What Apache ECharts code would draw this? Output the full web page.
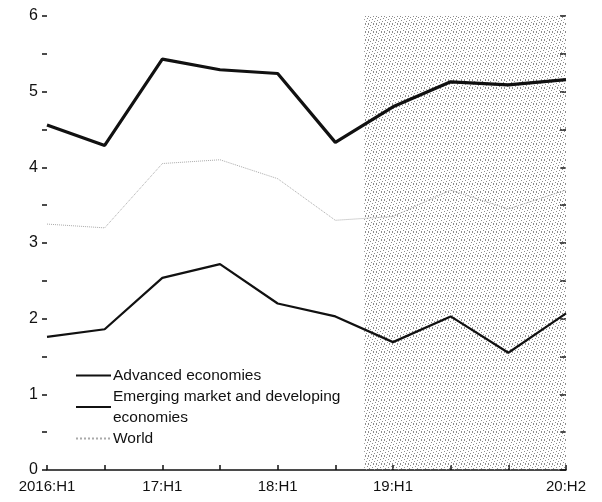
<!DOCTYPE html>
<html>
<head>
<meta charset="utf-8">
<script src="https://cdn.jsdelivr.net/npm/echarts@6/dist/echarts.min.js"></script>
<style>
  html, body { margin: 0; padding: 0; background: #fff; }
  #main { width: 602px; height: 502px; }
</style>
</head>
<body>
<div id="main"></div>
<script>
// half-year periods
var categories = ['2016:H1', '16:H2', '17:H1', '17:H2', '18:H1', '18:H2', '19:H1', '19:H2', '20:H1', '20:H2'];
var labelShown = [0, 2, 4, 6, 9];
var advanced = [1.76, 1.86, 2.54, 2.72, 2.2, 2.03, 1.69, 2.03, 1.55, 2.07];
var emerging = [4.56, 4.29, 5.43, 5.29, 5.24, 4.33, 4.8, 5.13, 5.09, 5.16];
var world = [3.25, 3.2, 4.05, 4.1, 3.85, 3.3, 3.35, 3.7, 3.45, 3.7];
// projection shading (from between 18:H2 and 19:H1 to the end)
var shadeFrom = 5.5;
var shadeTo = 9;

var FONT = "'Liberation Sans', Arial, sans-serif";

function pairs(arr) {
    return arr.map(function(v, i) { return [i, v]; });
}

// halftone-ish dots for the shaded area
var pat = document.createElement('canvas');
pat.width = 8;
pat.height = 8;
var pctx = pat.getContext('2d');
pctx.fillStyle = '#8c8c8c';
[[0, 0], [5, 0], [2, 1], [7, 2], [4, 3], [1, 4], [6, 5], [3, 6], [0, 7], [5, 7]].forEach(function(p) {
    pctx.fillRect(p[0], p[1], 1, 1);
});

var myChart = echarts.init(document.getElementById('main'));
var option = {
    animation: false,
    backgroundColor: '#fff',
    textStyle: { fontFamily: FONT },
    grid: { left: 47, right: 36, top: 16, bottom: 32, containLabel: false },
    legend: {
        orient: 'vertical',
        left: 75,
        top: 365,
        padding: 0,
        itemGap: 0,
        itemWidth: 35,
        itemHeight: 10,
        itemStyle: { color: 'rgba(0,0,0,0)', borderColor: 'rgba(0,0,0,0)', borderWidth: 0 },
        data: ['Advanced economies', 'Emerging market and developing\neconomies', 'World'],
        textStyle: { fontFamily: FONT, fontSize: 15.5, lineHeight: 21, color: '#111', padding: [0, 0, 0, -3] }
    },
    xAxis: {
        type: 'value',
        min: 0,
        max: 9,
        interval: 1,
        splitLine: { show: false },
        axisLine: { show: true, lineStyle: { color: '#111', width: 1.5 } },
        axisTick: { show: true, inside: true, length: 5, lineStyle: { color: '#111', width: 1.5 } },
        axisLabel: {
            color: '#111',
            fontSize: 15,
            fontFamily: FONT,
            margin: 9,
            hideOverlap: false,
            showMinLabel: true,
            showMaxLabel: true,
            formatter: function(v) {
                return labelShown.indexOf(v) >= 0 ? categories[v] : '';
            }
        }
    },
    yAxis: [{
        type: 'value',
        min: 0,
        max: 6,
        interval: 0.5,
        splitLine: { show: false },
        axisLine: { show: false },
        axisTick: { show: true, length: 5, lineStyle: { color: '#111', width: 1.5 } },
        axisLabel: {
            color: '#111',
            fontSize: 16,
            fontFamily: FONT,
            margin: 9,
            formatter: function(v) {
                return v % 1 === 0 ? String(v) : '';
            }
        }
    }, {
        type: 'value',
        position: 'right',
        min: 0,
        max: 6,
        interval: 0.5,
        splitLine: { show: false },
        axisLine: { show: false },
        axisTick: { show: true, inside: true, length: 6, lineStyle: { color: '#111', width: 1.5 } },
        axisLabel: { show: false }
    }],
    series: [{
            name: 'Advanced economies',
            type: 'line',
            symbol: 'none',
            data: pairs(advanced),
            lineStyle: { color: '#111', width: 2.2 },
            itemStyle: { color: '#111' },
            z: 3,
            markArea: {
                silent: true,
                itemStyle: { color: { image: pat, repeat: 'repeat' } },
                data: [[{ xAxis: shadeFrom }, { xAxis: shadeTo }]]
            }
        },
        {
            name: 'Emerging market and developing\neconomies',
            type: 'line',
            symbol: 'none',
            data: pairs(emerging),
            lineStyle: { color: '#111', width: 3.2 },
            itemStyle: { color: '#111' },
            z: 3
        },
        {
            name: 'World',
            type: 'line',
            symbol: 'none',
            data: pairs(world),
            lineStyle: { color: '#aaa', width: 1, type: 'dotted' },
            itemStyle: { color: '#aaa' },
            z: 2
        }
    ]
};
myChart.setOption(option);
</script>
</body>
</html>
